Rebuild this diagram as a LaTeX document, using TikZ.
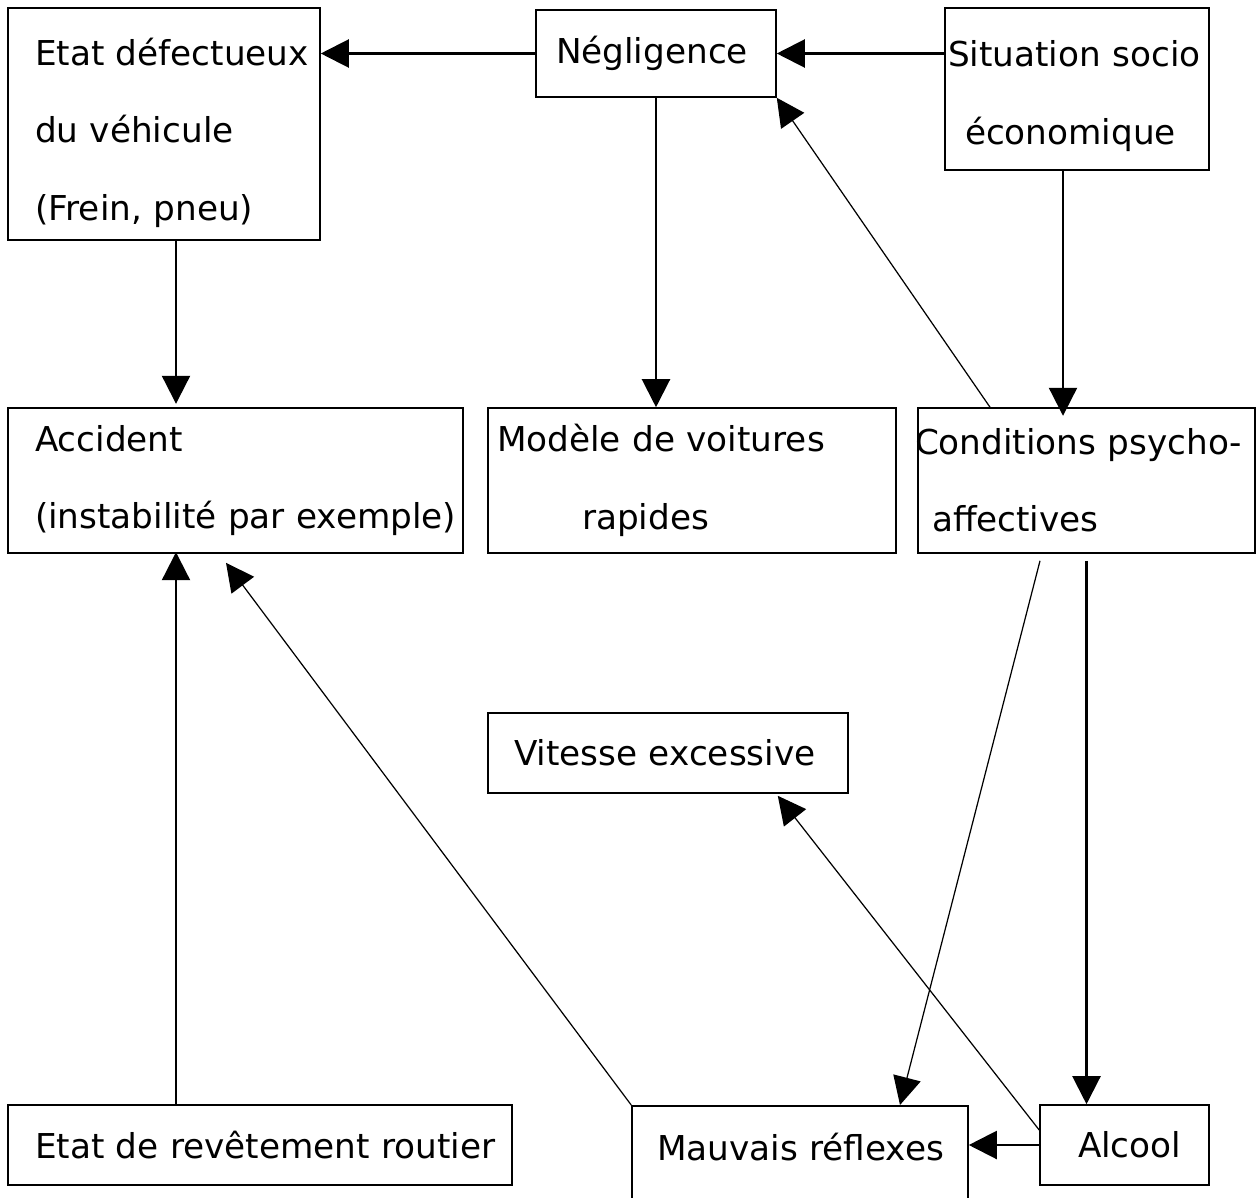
\documentclass[tikz,border=0pt]{standalone}
\usepackage{fontspec}
\setmainfont{DejaVu Sans}
\usetikzlibrary{arrows.meta}
\hyphenpenalty=10000
\exhyphenpenalty=10000

\tikzset{
  box/.style={draw, line width=0.9pt, inner xsep=0pt, align=left,
    font=\fontsize{19.5}{44}\selectfont},
  arr/.style={-{Triangle[length=0.56cm,width=0.56cm]}, line width=1.25pt},
  thinarr/.style={arr, line width=0.7pt}
}

\begin{document}
\begin{tikzpicture}
  \clip (0,0) rectangle (25.14,-23.96);
  % top row
  \node[box, minimum width=6.24cm, minimum height=4.64cm, text width=5.16cm] (etat) at (3.28,-2.48) {\rule{0pt}{0.9cm}Etat~défectueux\\du~véhicule\\(Frein,~pneu)};
  \node[box, minimum width=4.8cm, minimum height=1.74cm, text width=4.0cm] (neg) at (13.12,-1.07) {Négligence};
  \node[box, minimum width=5.28cm, minimum height=3.24cm, text width=5.16cm] (socio) at (21.54,-1.78) {\rule{0pt}{0.8cm}Situation~socio\\\hspace*{0.34cm}économique};
  % middle row
  \node[box, minimum width=9.10cm, minimum height=2.90cm, text width=8.02cm] (acc) at (4.71,-9.61) {Accident\\(instabilité~par~exemple)};
  \node[box, minimum width=8.16cm, minimum height=2.90cm, text width=7.8cm] (modele) at (13.84,-9.61) {Modèle~de~voitures\\\hspace*{1.7cm}rapides};
  \node[box, minimum width=6.74cm, minimum height=2.90cm, text width=6.74cm] (cond) at (21.73,-9.61) {\hspace*{-0.06cm}Conditions~psycho-\\\hspace*{0.28cm}affectives};
  \node[box, minimum width=7.2cm, minimum height=1.6cm, text width=6.16cm] (vit) at (13.36,-15.06) {Vitesse~excessive};
  % bottom row
  \node[box, minimum width=10.08cm, minimum height=1.6cm, text width=9.0cm] (rev) at (5.2,-22.9) {Etat~de~revêtement~routier};
  \node[box, anchor=north, minimum width=6.72cm, text width=5.72cm, inner ysep=0.3cm, text height=0.8cm, text depth=1.4cm] (mauv) at (16.0,-22.1) {Mauvais~réflexes};
  \node[box, minimum width=3.38cm, minimum height=1.6cm, text width=1.86cm] (alc) at (22.49,-22.9) {Alcool};

  % arrows
  \draw[arr] (neg.west) -- (neg.west -| etat.east);
  \draw[arr] (neg.east -| socio.west) -- (neg.east);
  \draw[arr] ([xshift=0.24cm]etat.south) -- ++(0,-3.26);
  \draw[arr] (neg.south) -- (neg.south |- modele.north);
  \draw[arr] ([xshift=-0.28cm]socio.south) -- ++(0,-4.9);
  \draw[thinarr] ([xshift=-1.93cm]cond.north) -- (neg.south east);
  \draw[thinarr] ([xshift=-0.93cm,yshift=-0.14cm]cond.south) -- ([xshift=2.0cm]mauv.north);
  \draw[arr] ([yshift=-0.14cm]cond.south) -- (cond.south |- alc.north);
  \draw[thinarr] ([yshift=0.3cm]alc.west) -- ([xshift=-1.42cm,yshift=-0.04cm]vit.south east);
  \draw[arr] (alc.west) -- (alc.west -| mauv.east);
  \draw[thinarr] (mauv.north west) -- ([xshift=-0.19cm,yshift=-0.18cm]acc.south);
  \draw[arr] ([xshift=-1.68cm]rev.north) -- ++(0,11.04);
\end{tikzpicture}
\end{document}
